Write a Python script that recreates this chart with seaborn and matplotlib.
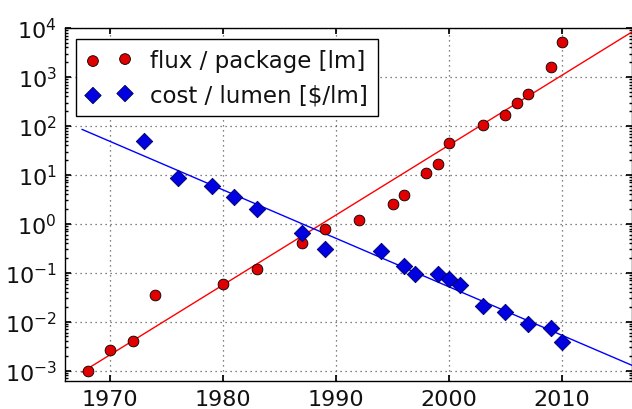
import numpy as np
import pandas as pd
import matplotlib
matplotlib.use("Agg")
import matplotlib.pyplot as plt
import matplotlib.ticker as mticker
import seaborn as sns

# =========================
# Data
# =========================
flux_years = [1968, 1970, 1972, 1974, 1980, 1983, 1987, 1989, 1992, 1995,
              1996, 1998, 1999, 2000, 2003, 2005, 2006, 2007, 2009, 2010]
flux_values = [1.0e-3, 2.7e-3, 4.0e-3, 0.035, 0.06, 0.12, 0.41, 0.78, 1.2, 2.6,
               3.8, 11, 17, 45, 105, 165, 300, 450, 1600, 5100]

cost_years = [1973, 1976, 1979, 1981, 1983, 1987, 1989, 1994, 1996, 1997,
              1999, 2000, 2001, 2003, 2005, 2007, 2009, 2010]
cost_values = [50, 8.8, 6.0, 3.5, 2.0, 0.65, 0.31, 0.28, 0.135, 0.095,
               0.095, 0.075, 0.057, 0.021, 0.016, 0.0091, 0.0074, 0.0038]

# trend lines (two end points each)
fit_years = [1967.5, 2016.2]
flux_fit = [10 ** -3.03, 10 ** 3.92]
cost_fit = [10 ** 1.93, 10 ** -2.89]

y_ticks = [1e-3, 1e-2, 1e-1, 1e0, 1e1, 1e2, 1e3, 1e4]
x_ticks = [1970, 1980, 1990, 2000, 2010]

# =========================
# Style
# =========================
sns.set_theme(style="ticks", rc={
    "xtick.direction": "in",
    "ytick.direction": "in",
    "xtick.top": True,
    "ytick.right": True,
    "xtick.major.size": 4,
    "ytick.major.size": 4,
    "ytick.minor.size": 2,
    "axes.edgecolor": "black",
    "axes.linewidth": 1.0,
    "xtick.color": "black",
    "ytick.color": "black",
    "text.color": "#111111",
    "xtick.labelcolor": "#111111",
    "ytick.labelcolor": "#111111",
})
plt.rcParams["font.family"] = ["DejaVu Sans"]
plt.rcParams["mathtext.fontset"] = "dejavusans"

fig = plt.figure(figsize=(6.32, 4.10), dpi=100)
ax = fig.add_axes([65 / 632, 28.3 / 410, 1 - 65 / 632, (381.7 - 29) / 410])

# trend lines
sns.lineplot(x=fit_years, y=flux_fit, color="#ff0000", lw=1.0, ax=ax)
sns.lineplot(x=fit_years, y=cost_fit, color="#0000ff", lw=1.0, ax=ax)

# data points
sns.scatterplot(x=flux_years, y=flux_values, marker="o", s=60, color="#e00000",
                edgecolor="black", linewidth=0.6, label="flux / package [lm]",
                ax=ax, zorder=3)
sns.scatterplot(x=cost_years, y=cost_values, marker="D", s=70, color="#0000e0",
                edgecolor="#000060", linewidth=0.6, label="cost / lumen [$/lm]",
                ax=ax, zorder=3)

ax.set_yscale("log")
ax.set_xlim(1966, 2016.2)
ax.set_ylim(10 ** -3.204, 1e4)
ax.set_xticks(x_ticks)
ax.set_yticks(y_ticks)
ax.yaxis.set_minor_locator(mticker.LogLocator(base=10, subs=range(2, 10), numticks=100))
ax.yaxis.set_minor_formatter(mticker.NullFormatter())
ax.tick_params(axis="both", which="major", labelsize=16, pad=6)
ax.grid(True, which="major", color="0.35", linestyle=(0, (1, 3)), linewidth=0.9)

leg = ax.legend(loc="upper left", scatterpoints=2, fontsize=16.5, frameon=True,
                fancybox=False, framealpha=1, edgecolor="black",
                borderaxespad=0.5, handletextpad=0.8, borderpad=0.42,
                labelspacing=0.5)
leg.get_frame().set_linewidth(1.0)

fig.savefig("out.png", dpi=100)
